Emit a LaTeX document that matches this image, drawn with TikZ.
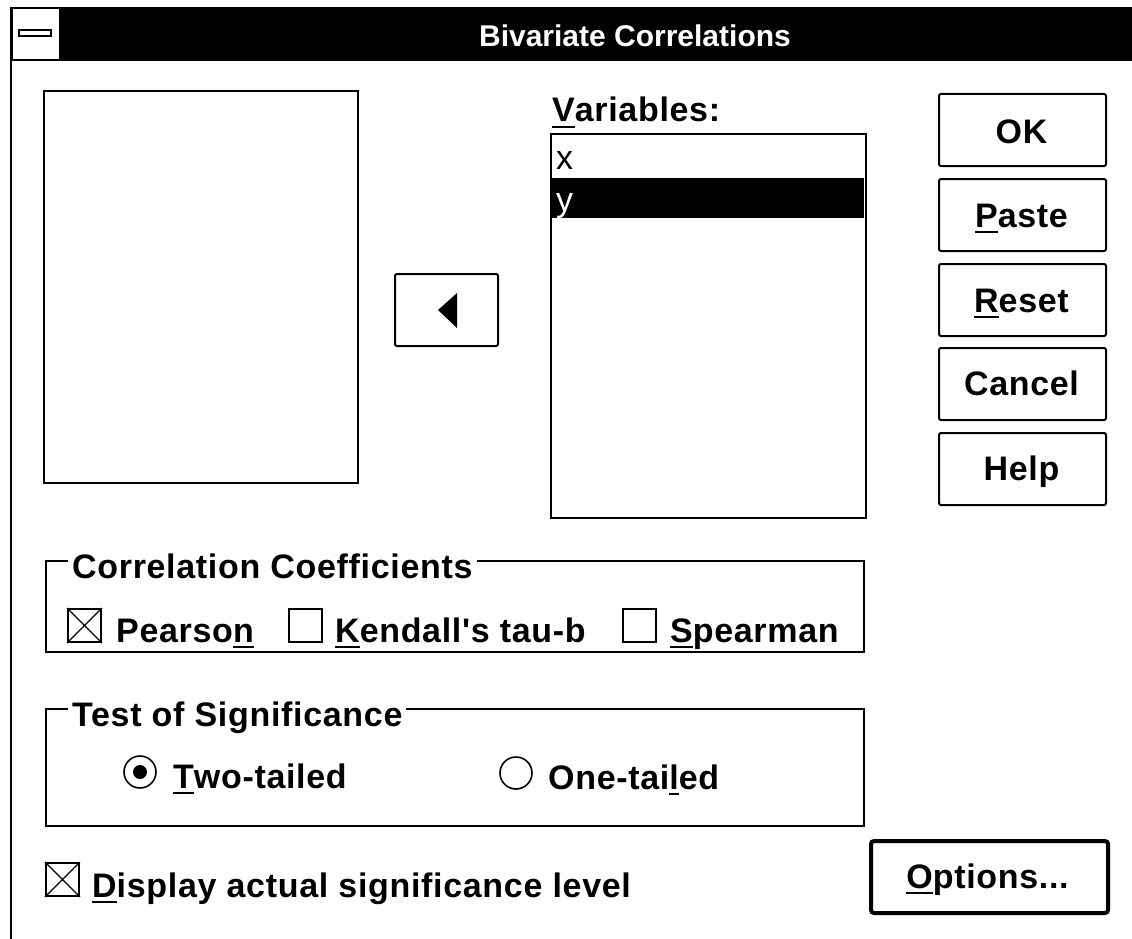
\documentclass[tikz,border=0pt]{standalone}
\usepackage{fontspec}
\newfontfamily\uifont{Liberation Sans}[LetterSpace=2]
\newfontfamily\captionfont{Liberation Sans}
% mnemonic underline under one access-key letter
\newcommand\keyl[1]{\setbox0=\hbox{#1}\rlap{\rule[-6pt]{\wd0}{2pt}}\box0}
\begin{document}
\begin{tikzpicture}[x=1pt,y=-1pt,
  ui/.style={font=\uifont\fontsize{34}{40}\selectfont\bfseries},
  txt/.style={ui, inner sep=0pt, anchor=base west},
  ctxt/.style={ui, inner sep=0pt, anchor=base},
  item/.style={font=\uifont\fontsize{34}{40}\selectfont, inner sep=0pt, anchor=base west},
  grouptitle/.style={txt, fill=white, inner xsep=4pt, inner ysep=2pt},
  box/.style={draw=black, line width=2pt, inner sep=0pt, anchor=north west},
  btn/.style={box, rounded corners=2pt, minimum width=167pt, minimum height=72pt},
  chk/.style={draw=black, line width=2pt, inner sep=0pt, anchor=north west,
    minimum width=33pt, minimum height=33pt},
  radio/.style={circle, draw=black, line width=1.6pt, inner sep=0pt, minimum size=32pt},
]
\useasboundingbox (0,0) rectangle (1132,939);
\fill[white] (0,0) rectangle (1132,939);

% window frame and caption bar
\draw[line width=2pt] (11,7) -- (11,939);
\fill[black] (11,7) rectangle (1132,61);
\fill[white] (13,9) rectangle (59,59);
\node[draw=black, fill=white, line width=1.5pt, minimum width=32pt, minimum height=6pt,
  inner sep=0pt] (sysmenu) at (35,33) {};
\node[ctxt, text=white, font=\captionfont\fontsize{30}{36}\selectfont\bfseries] (caption)
  at (635,47) {Bivariate Correlations};

% source list and variables list
\node[box, minimum width=314pt, minimum height=392pt] (srclist) at (43,90) {};
\node[txt] (varlabel) at (552,122) {\keyl{V}ariables:};
\node[box, minimum width=315pt, minimum height=384pt] (varlist) at (550,133) {};
\fill[black] (551,178) rectangle (864,218);
\node[item] (itemx) at (556,169) {x};
\node[item, text=white] (itemy) at (556,211) {y};

% move button
\node[btn, minimum width=103pt] (movebtn) at (394,273) {};
\fill[black] (438,310) -- (457,293) -- (457,328) -- cycle;

% command buttons
\node[btn] (okbtn) at (938,93) {};
\node[btn] (pastebtn) at (938,178) {};
\node[btn] (resetbtn) at (938,263) {};
\node[btn] (cancelbtn) at (938,347) {};
\node[btn] (helpbtn) at (938,432) {};
\node[ctxt] (oktxt) at (1021.5,143) {OK};
\node[ctxt] (pastetxt) at (1021.5,227) {\keyl{P}aste};
\node[ctxt] (resettxt) at (1021.5,312) {\keyl{R}eset};
\node[ctxt] (canceltxt) at (1021.5,395) {Cancel};
\node[ctxt] (helptxt) at (1021.5,480) {Help};

% correlation coefficients group
\node[box, minimum width=818pt, minimum height=91pt] (coefgroup) at (45,560) {};
\node[grouptitle] (coeftitle) at (68,578) {Correlation Coefficients};
\node[chk] (pearsonbox) at (67,608) {};
\draw[line width=1.1pt] (pearsonbox.north west) -- (pearsonbox.south east)
  (pearsonbox.north east) -- (pearsonbox.south west);
\node[txt] (pearsontxt) at (116,642) {Pearso\keyl{n}};
\node[chk] (kendallbox) at (288,608) {};
\node[txt] (kendalltxt) at (335,642) {\keyl{K}endall's tau-b};
\node[chk] (spearmanbox) at (622,608) {};
\node[txt] (spearmantxt) at (670,642) {\keyl{S}pearman};

% test of significance group
\node[box, minimum width=818pt, minimum height=117pt] (testgroup) at (45,708) {};
\node[grouptitle] (testtitle) at (68,726) {Test of Significance};
\node[radio] (tworadio) at (140,772) {};
\fill[black] (tworadio.center) circle (7);
\node[txt] (twotxt) at (173,788) {\keyl{T}wo-tailed};
\node[radio] (oneradio) at (516,773) {};
\node[txt] (onetxt) at (548,789) {One-tai\keyl{l}ed};

% display option and options button
\node[chk] (displaybox) at (45,862) {};
\draw[line width=1.1pt] (displaybox.north west) -- (displaybox.south east)
  (displaybox.north east) -- (displaybox.south west);
\node[txt] (displaytxt) at (92,897) {\keyl{D}isplay actual significance level};
\node[box, line width=4pt, rounded corners=3pt, minimum width=237pt, minimum height=72pt]
  (optionsbtn) at (869,839) {};
\node[ctxt] (optionstxt) at (987.5,888) {\keyl{O}ptions...};
\end{tikzpicture}
\end{document}
